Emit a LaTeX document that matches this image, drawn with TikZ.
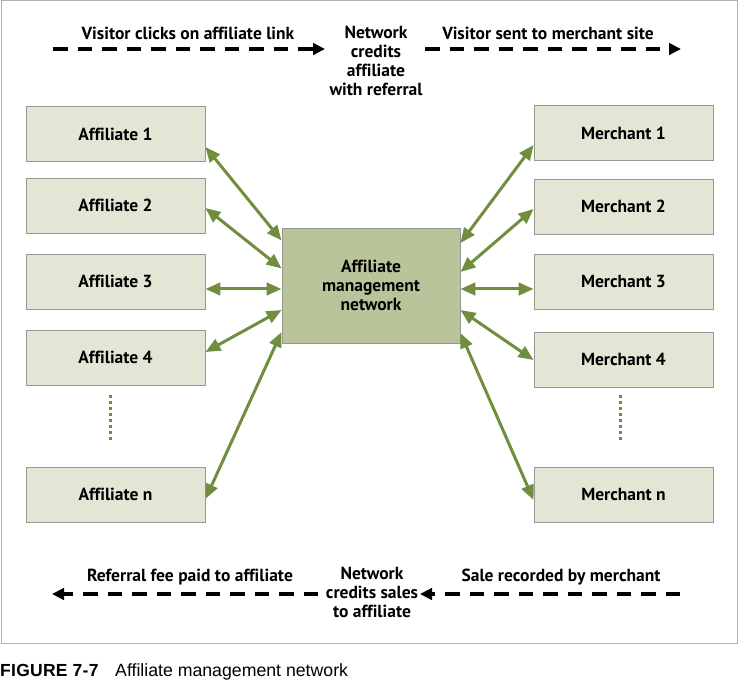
\documentclass[tikz,border=0pt]{standalone}
\usepackage{fontspec}
\usetikzlibrary{arrows.meta}
\newfontfamily\diagfont{PT Sans}[Ligatures=NoCommon]
\newfontfamily\capfont{Liberation Sans}
\definecolor{boxfill}{RGB}{227,229,213}
\definecolor{boxdraw}{RGB}{150,152,145}
\definecolor{netfill}{RGB}{186,196,155}
\definecolor{arrgreen}{RGB}{112,142,62}
\tikzset{
  pbox/.style={draw=boxdraw, fill=boxfill, line width=0.9pt, minimum width=179pt, minimum height=55pt, inner sep=0pt, font=\diagfont\bfseries\fontsize{17.5}{19}\selectfont},
  netbox/.style={draw=boxdraw, fill=netfill, line width=0.9pt, minimum width=178pt, minimum height=115pt, inner sep=0pt, align=center, font=\diagfont\bfseries\fontsize{17.5}{19}\selectfont},
  lbl/.style={inner sep=0pt, align=center, font=\diagfont\bfseries\fontsize{17.5}{19}\selectfont},
  garrow/.style={draw=arrgreen, line width=3pt, {Triangle[length=15pt,width=12.5pt]}-{Triangle[length=15pt,width=12.5pt]}},
  darrow/.style={draw=black, line width=3.6pt, dash pattern=on 14.5pt off 10pt, -{Triangle[length=12pt,width=11.5pt]}},
  gdots/.style={draw=arrgreen, line width=3pt, dash pattern=on 3pt off 3pt}
}
\begin{document}
\begin{tikzpicture}[x=1pt,y=-1pt]
\useasboundingbox (0,0) rectangle (740,682);
\draw[draw=gray!60, line width=1pt] (1.5,0.5) rectangle (737,643);

% affiliates
\node[pbox] (a1) at (115.5,134) {Affiliate 1};
\node[pbox] (a2) at (115.5,205.5) {Affiliate 2};
\node[pbox] (a3) at (115.5,281.5) {Affiliate 3};
\node[pbox] (a4) at (115.5,357.5) {Affiliate 4};
\node[pbox] (an) at (115.5,494.5) {Affiliate n};
% merchants
\node[pbox] (m1) at (623.5,133) {Merchant 1};
\node[pbox] (m2) at (623.5,206.5) {Merchant 2};
\node[pbox] (m3) at (623.5,281.5) {Merchant 3};
\node[pbox] (m4) at (623.5,359.5) {Merchant 4};
\node[pbox] (mn) at (623.5,494.5) {Merchant n};
% network
\node[netbox] (net) at (371,285.5) {Affiliate\\management\\network};

% green double arrows
\draw[garrow] ([yshift=-13pt]a1.east) -- ([yshift=45pt]net.west);
\draw[garrow] ([yshift=-2.5pt]a2.east) -- ([yshift=17pt]net.west);
\draw[garrow] ([yshift=-7.5pt]a3.east) -- ([yshift=-3.5pt]net.west);
\draw[garrow] ([yshift=5.5pt]a4.east) -- ([yshift=-24.5pt]net.west);
\draw[garrow] ([yshift=-4.5pt]an.east) -- ([yshift=-46.5pt]net.west);

\draw[garrow] ([yshift=-12pt]m1.west) -- ([yshift=42.5pt]net.east);
\draw[garrow] ([yshift=-2.5pt]m2.west) -- ([yshift=13.5pt]net.east);
\draw[garrow] ([yshift=-7.5pt]m3.west) -- ([yshift=-3.5pt]net.east);
\draw[garrow] ([yshift=-0.5pt]m4.west) -- ([yshift=-24.5pt]net.east);
\draw[garrow] ([yshift=-5.5pt]mn.west) -- ([yshift=-47.5pt]net.east);

% vertical dots
\draw[gdots] (110,395) -- (110,441);
\draw[gdots] (620,395) -- (620,441);

% top flow
\node[lbl] (tl1) at (188,33) {Visitor clicks on affiliate link};
\node[lbl] (tc) at (376,60.5) {Network\\credits\\affiliate\\with referral};
\node[lbl] (tl2) at (548,33) {Visitor sent to merchant site};
\coordinate (t1s) at (53,49);
\coordinate (t1e) at (325,49);
\coordinate (t2s) at (425,49);
\coordinate (t2e) at (681,49);
\draw[darrow] (t1s) -- (t1e);
\draw[darrow] (t2s) -- (t2e);

% bottom flow
\node[lbl] (bl1) at (190,577) {Referral fee paid to affiliate};
\node[lbl] (bc) at (372,592) {Network\\credits sales\\to affiliate};
\node[lbl] (bl2) at (561,577) {Sale recorded by merchant};
\coordinate (b1s) at (680,594);
\coordinate (b1e) at (420,594);
\coordinate (b2s) at (318,594);
\coordinate (b2e) at (52,594);
\draw[darrow] (b1s) -- (b1e);
\draw[darrow] (b2s) -- (b2e);

% caption
\node[anchor=base west, inner sep=0pt, font=\capfont\bfseries\fontsize{17.5}{20}\selectfont\addfontfeature{LetterSpace=1.5}] (cap1) at (0,676) {FIGURE 7-7};
\node[anchor=base west, inner sep=0pt, font=\capfont\fontsize{17.7}{20}\selectfont] (cap2) at (115,676) {Affiliate management network};
\end{tikzpicture}
\end{document}
